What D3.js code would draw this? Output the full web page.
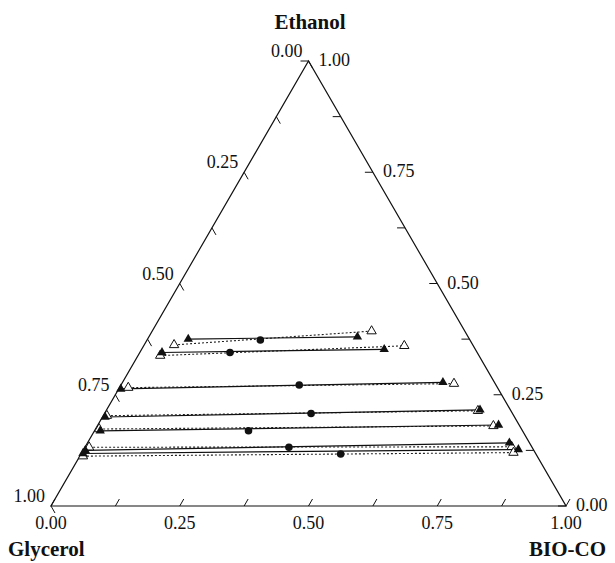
<!DOCTYPE html>
<html>
<head>
<meta charset="UTF-8">
<script src="https://d3js.org/d3.v7.min.js"></script>
<style>
body { margin: 0; background: #fff; }
text { font-family: "Liberation Serif", "Times New Roman", serif; fill: #111; }
</style>
</head>
<body>
<div id="chart"></div>
<script>
// compositions as [BIO-CO, Ethanol]; Glycerol = 1 - both
const expGlyPhase  = [[0.079,0.375],[0.043,0.345],[0.004,0.263],[0.005,0.200],[0.011,0.169],[0.004,0.125],[0.003,0.118]];
const expBioPhase  = [[0.405,0.380],[0.471,0.352],[0.622,0.278],[0.725,0.216],[0.778,0.182],[0.819,0.142],[0.844,0.127]];
const calcGlyPhase = [[0.058,0.362],[0.043,0.338],[0.017,0.266],[0.007,0.203],[0.007,0.173],[0.008,0.132],[0.006,0.112]];
const calcBioPhase = [[0.426,0.393],[0.506,0.360],[0.645,0.275],[0.722,0.214],[0.769,0.180],[0.828,0.133],[0.838,0.120]];
const feedPoints   = [[0.220,0.373],[0.175,0.345],[0.346,0.272],[0.401,0.208],[0.299,0.169],[0.396,0.132],[0.504,0.117]];
const tickValues = [0, 0.125, 0.25, 0.375, 0.5, 0.625, 0.75, 0.875, 1];
const labelValues = [0, 0.25, 0.5, 0.75, 1];

const width = 615, height = 563;
const svg = d3.select("#chart").append("svg")
  .attr("width", width).attr("height", height);

// u = BIO-CO + Ethanol/2 across, Ethanol upward
const xScale = d3.scaleLinear().domain([0, 1]).range([51, 566]);
const yScale = d3.scaleLinear().domain([0, 1]).range([506, 61]);
function px(d) { return xScale(d[0] + d[1] / 2); }
function py(d) { return yScale(d[1]); }
const fmt = d3.format(".2f");

// triangle frame
const corners = [[0, 0], [1, 0], [0, 1]];
svg.append("path")
  .attr("d", "M" + corners.map(c => px(c) + "," + py(c)).join("L") + "Z")
  .attr("fill", "none").attr("stroke", "#111").attr("stroke-width", 1.2);

// bottom axis (BIO-CO), ticks slant up-right
svg.append("g").selectAll("line").data(tickValues).enter().append("line")
  .attr("x1", d => px([d, 0])).attr("y1", d => py([d, 0]))
  .attr("x2", d => px([d, 0]) + 4).attr("y2", d => py([d, 0]) - 7)
  .attr("stroke", "#111").attr("stroke-width", 1);
svg.append("g").selectAll("text").data(labelValues).enter().append("text")
  .attr("x", d => px([d, 0])).attr("y", 529)
  .attr("text-anchor", "middle").attr("font-size", 18)
  .text(d => fmt(d));

// right axis (Ethanol), ticks point left
svg.append("g").selectAll("line").data(tickValues).enter().append("line")
  .attr("x1", d => px([1 - d, d])).attr("y1", d => py([1 - d, d]))
  .attr("x2", d => px([1 - d, d]) - 8).attr("y2", d => py([1 - d, d]))
  .attr("stroke", "#111").attr("stroke-width", 1);
svg.append("g").selectAll("text").data(labelValues).enter().append("text")
  .attr("x", d => px([1 - d, d]) + 10).attr("y", d => py([1 - d, d]) + 5)
  .attr("font-size", 18)
  .text(d => fmt(d));

// left axis (Glycerol), ticks slant down-right
svg.append("g").selectAll("line").data(tickValues).enter().append("line")
  .attr("x1", d => px([0, 1 - d])).attr("y1", d => py([0, 1 - d]))
  .attr("x2", d => px([0, 1 - d]) + 4).attr("y2", d => py([0, 1 - d]) + 7)
  .attr("stroke", "#111").attr("stroke-width", 1);
svg.append("g").selectAll("text").data(labelValues).enter().append("text")
  .attr("x", d => px([0, 1 - d]) - 6).attr("y", d => py([0, 1 - d]) - 4)
  .attr("text-anchor", "end").attr("font-size", 18)
  .text(d => fmt(d));

// component names
svg.append("text").attr("x", 310).attr("y", 29).attr("text-anchor", "middle")
  .attr("font-size", 21).attr("font-weight", "bold").text("Ethanol");
svg.append("text").attr("x", 8).attr("y", 556)
  .attr("font-size", 21).attr("font-weight", "bold").text("Glycerol");
svg.append("text").attr("x", 606).attr("y", 556).attr("text-anchor", "end")
  .attr("font-size", 21).attr("font-weight", "bold").text("BIO-CO");

// tie lines
const calcPairs = calcGlyPhase.map((d, i) => [d, calcBioPhase[i]]);
const expPairs = expGlyPhase.map((d, i) => [d, expBioPhase[i]]);
svg.append("g").selectAll("line").data(calcPairs).enter().append("line")
  .attr("x1", d => px(d[0])).attr("y1", d => py(d[0]))
  .attr("x2", d => px(d[1])).attr("y2", d => py(d[1]))
  .attr("stroke", "#222").attr("stroke-width", 1.1).attr("stroke-dasharray", "2,2");
svg.append("g").selectAll("line").data(expPairs).enter().append("line")
  .attr("x1", d => px(d[0])).attr("y1", d => py(d[0]))
  .attr("x2", d => px(d[1])).attr("y2", d => py(d[1]))
  .attr("stroke", "#111").attr("stroke-width", 1.2);

// markers
const tri = d3.symbol().type(d3.symbolTriangle).size(38);
svg.append("g").selectAll("path").data(calcGlyPhase.concat(calcBioPhase)).enter().append("path")
  .attr("d", tri).attr("transform", d => "translate(" + px(d) + "," + py(d) + ")")
  .attr("fill", "#fff").attr("stroke", "#111").attr("stroke-width", 1);
svg.append("g").selectAll("path").data(expGlyPhase.concat(expBioPhase)).enter().append("path")
  .attr("d", tri).attr("transform", d => "translate(" + px(d) + "," + py(d) + ")")
  .attr("fill", "#111");
svg.append("g").selectAll("circle").data(feedPoints).enter().append("circle")
  .attr("cx", d => px(d)).attr("cy", d => py(d)).attr("r", 3.8)
  .attr("fill", "#111");
</script>
</body>
</html>
